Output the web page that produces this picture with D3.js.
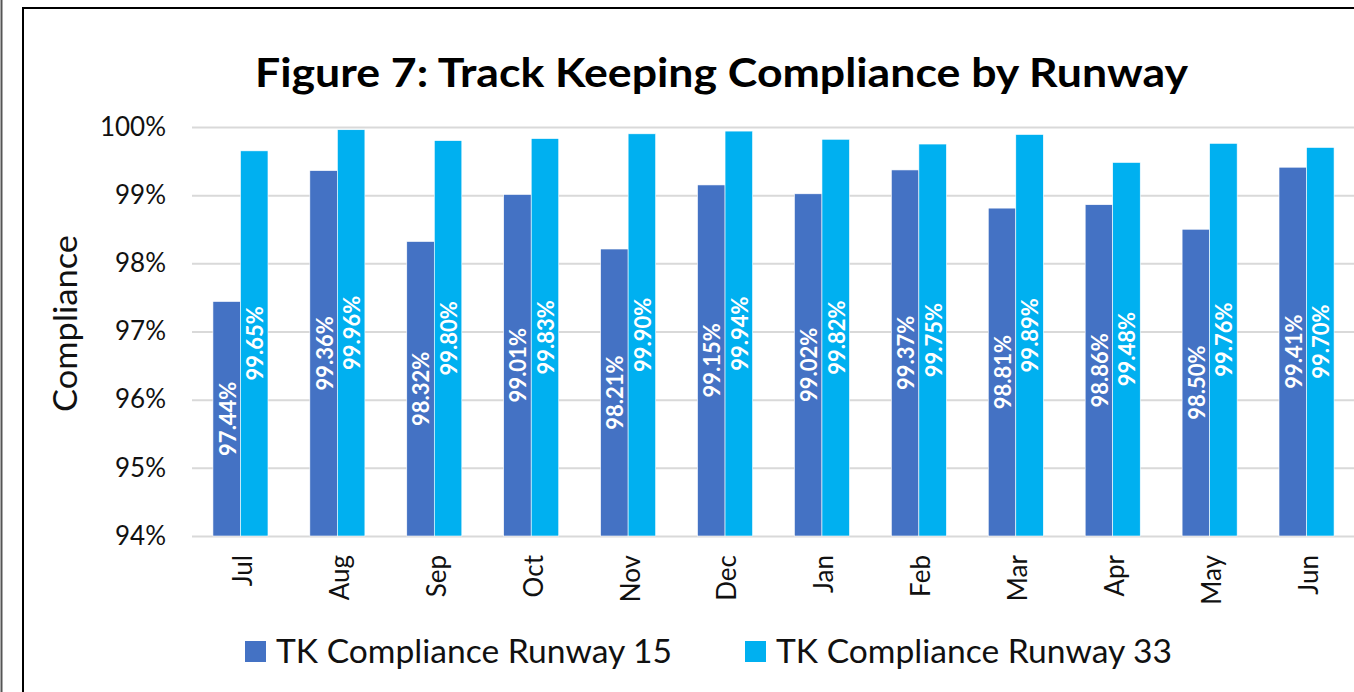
<!DOCTYPE html>
<html>
<head>
<meta charset="utf-8">
<script src="https://cdn.jsdelivr.net/npm/d3@7"></script>
<style>
  body { margin: 0; background: #fff; overflow: hidden; }
  svg { display: block; font-family: Lato, "Open Sans", sans-serif; }
</style>
</head>
<body>
<div id="chart"></div>
<script>
// data
const months = ['Jul','Aug','Sep','Oct','Nov','Dec','Jan','Feb','Mar','Apr','May','Jun'];
const seriesNames = ['TK Compliance Runway 15', 'TK Compliance Runway 33'];
const runway15 = [0.9744, 0.9936, 0.9832, 0.9901, 0.9821, 0.9915, 0.9902, 0.9937, 0.9881, 0.9886, 0.9850, 0.9941];
const runway33 = [0.9965, 0.9996, 0.9980, 0.9983, 0.9990, 0.9994, 0.9982, 0.9975, 0.9989, 0.9948, 0.9976, 0.9970];
const yTicks = [0.94, 0.95, 0.96, 0.97, 0.98, 0.99, 1.00];
const colors = ['#4472C4', '#00B0F0'];

const W = 1354, H = 692;
const svg = d3.select('#chart').append('svg').attr('width', W).attr('height', H);

// frame lines
svg.append('line').attr('x1', 1.5).attr('x2', 1.5).attr('y1', 0).attr('y2', H)
  .style('stroke', '#555').style('stroke-width', 2);
svg.append('line').attr('x1', 23).attr('x2', 23).attr('y1', 7).attr('y2', H)
  .style('stroke', '#000').style('stroke-width', 2);
svg.append('line').attr('x1', 22).attr('x2', W).attr('y1', 8).attr('y2', 8)
  .style('stroke', '#000').style('stroke-width', 2);

const plotL = 192, plotR = 1355, plotT = 127, plotB = 536;

const x0 = d3.scaleBand().domain(months).range([plotL, plotR]).paddingInner(0.432).paddingOuter(0.216);
const x1 = d3.scaleBand().domain([0, 1]).range([0, x0.bandwidth()]);
const y = d3.scaleLinear().domain([0.94, 1.0]).range([plotB, plotT]);

// gridlines + y tick labels
const yAxis = svg.append('g').attr('transform', `translate(${plotL},0)`)
  .call(d3.axisLeft(y).tickValues(yTicks).tickFormat(d3.format('.0%')).tickSize(-(plotR - plotL)).tickPadding(26));
yAxis.select('.domain').remove();
yAxis.selectAll('line').style('stroke', '#d9d9d9').style('stroke-width', 2);
yAxis.selectAll('text').style('font-size', '26px').style('fill', '#111').style('font-family', 'Lato');

// bars
const rows = months.map((m, i) => ({ month: m, vals: [runway15[i], runway33[i]] }));
const groups = svg.selectAll('g.grp').data(rows).enter().append('g')
  .attr('class', 'grp')
  .attr('transform', d => `translate(${x0(d.month)},0)`);

groups.selectAll('rect').data(d => d.vals.map((v, k) => ({ v, k }))).enter().append('rect')
  .attr('x', d => x1(d.k))
  .attr('y', d => y(d.v))
  .attr('width', x1.bandwidth())
  .attr('height', d => plotB - y(d.v))
  .attr('fill', d => colors[d.k])
  .style('stroke', '#fff').style('stroke-width', 0.6);

// data labels
groups.selectAll('text.lbl').data(d => d.vals.map((v, k) => ({ v, k }))).enter().append('text')
  .attr('class', 'lbl')
  .attr('transform', d => `translate(${x1(d.k) + x1.bandwidth() / 2 + 1},${(y(d.v) + plotB) / 2}) rotate(-90)`)
  .attr('text-anchor', 'middle')
  .attr('dy', '0.36em')
  .text(d => d3.format('.2%')(d.v))
  .style('fill', '#fff')
  .style('font-weight', 'bold')
  .style('font-size', '22px');

// x labels
svg.selectAll('text.xl').data(months).enter().append('text')
  .attr('class', 'xl')
  .attr('transform', d => `translate(${x0(d) + x0.bandwidth() / 2 + 2},555) rotate(-90)`)
  .attr('text-anchor', 'end')
  .attr('dy', '0.36em')
  .text(d => d)
  .style('font-size', '26px')
  .style('fill', '#111');

// title
svg.append('text')
  .attr('x', 721.5).attr('y', 87)
  .attr('text-anchor', 'middle')
  .attr('textLength', 933).attr('lengthAdjust', 'spacingAndGlyphs')
  .text('Figure 7: Track Keeping Compliance by Runway')
  .style('font-weight', 'bold')
  .style('font-size', '41px')
  .style('fill', '#000');

// y axis title
svg.append('text')
  .attr('transform', 'translate(77,323.5) rotate(-90)')
  .attr('text-anchor', 'middle')
  .attr('textLength', 177).attr('lengthAdjust', 'spacingAndGlyphs')
  .text('Compliance')
  .style('font-size', '32px')
  .style('fill', '#111');

// legend
const legendX = [245, 745];
const legendW = [396, 396];
seriesNames.forEach((name, i) => {
  svg.append('rect')
    .attr('x', legendX[i]).attr('y', 641)
    .attr('width', 21).attr('height', 21)
    .attr('fill', colors[i]);
  svg.append('text')
    .attr('x', legendX[i] + 31).attr('y', 663)
    .attr('textLength', legendW[i]).attr('lengthAdjust', 'spacingAndGlyphs')
    .text(name)
    .style('font-size', '32px')
    .style('fill', '#111');
});
</script>
</body>
</html>
